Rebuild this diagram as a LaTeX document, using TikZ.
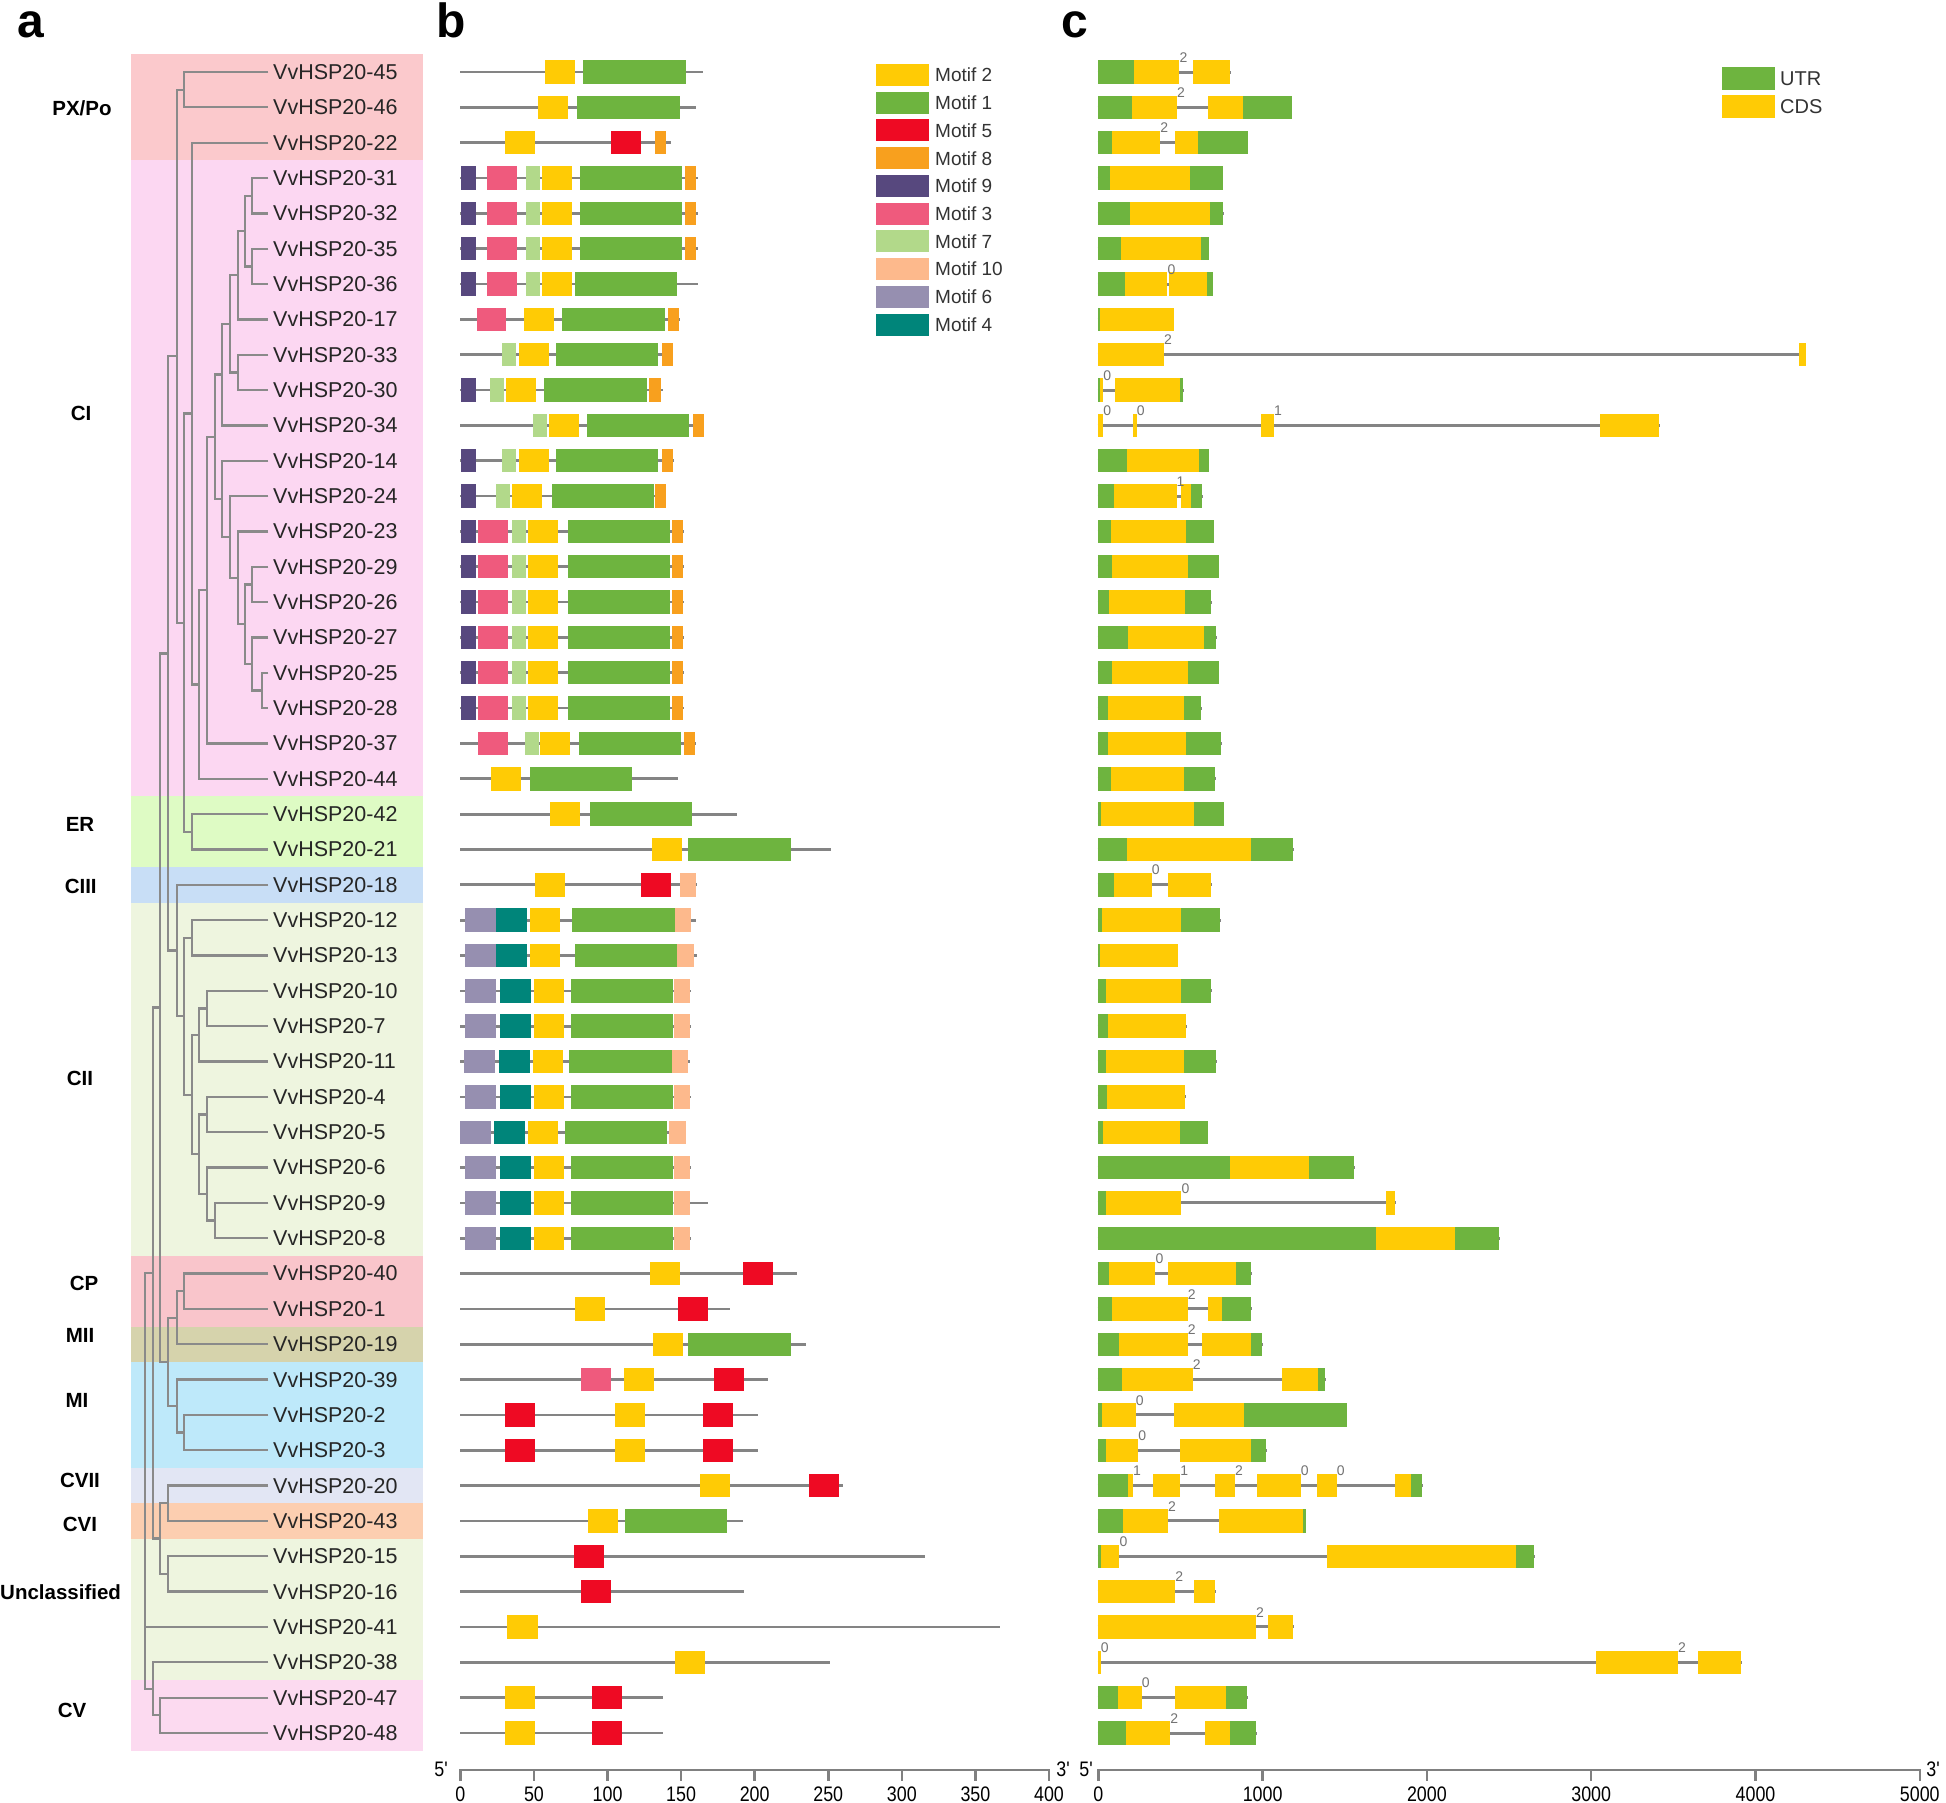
\documentclass[tikz,border=0pt]{standalone}
\usepackage{fontspec}
\setmainfont{Liberation Sans}
\newfontfamily\narrowf[FakeStretch=0.85]{Liberation Sans}
\definecolor{mc1}{HTML}{6EB43F}
\definecolor{mc2}{HTML}{FFCB05}
\definecolor{mc3}{HTML}{EF5A7D}
\definecolor{mc4}{HTML}{00857A}
\definecolor{mc5}{HTML}{EE0A23}
\definecolor{mc6}{HTML}{968FB0}
\definecolor{mc7}{HTML}{B2D98A}
\definecolor{mc8}{HTML}{F8A01E}
\definecolor{mc9}{HTML}{57487E}
\definecolor{mc10}{HTML}{FDB98C}
\definecolor{bPX}{HTML}{FBC9CC}
\definecolor{bCI}{HTML}{FCD7F2}
\definecolor{bER}{HTML}{DEFBC4}
\definecolor{bCIII}{HTML}{C8DEF6}
\definecolor{bCII}{HTML}{EEF5DF}
\definecolor{bCP}{HTML}{F9C5CB}
\definecolor{bMII}{HTML}{D6D3AC}
\definecolor{bMI}{HTML}{BEE9FA}
\definecolor{bCVII}{HTML}{E2E6F4}
\definecolor{bCVI}{HTML}{FCCEB0}
\definecolor{bCV}{HTML}{FCDAF0}
\definecolor{treec}{HTML}{8A8A8A}
\definecolor{linec}{HTML}{848484}
\definecolor{txtc}{HTML}{333333}
\expandafter\def\csname mw1\endcsname{69.5}
\expandafter\def\csname mw2\endcsname{20.4}
\expandafter\def\csname mw3\endcsname{20.2}
\expandafter\def\csname mw4\endcsname{21}
\expandafter\def\csname mw5\endcsname{20.4}
\expandafter\def\csname mw6\endcsname{21}
\expandafter\def\csname mw7\endcsname{9.7}
\expandafter\def\csname mw8\endcsname{7.5}
\expandafter\def\csname mw9\endcsname{10.2}
\expandafter\def\csname mw10\endcsname{11}
\def\leafx{268.3}
% tree clade: node x, child1 (x,y), child2 (x,y)
\newcommand\cl[5]{\draw[tree] (#2,#3) -| (#1,#5) -- (#4,#5);}
\newcommand\bandr[3]{\fill[#3] (131,{#1-0.5}) rectangle (423,{#2+0.5});}
% panel b
\newcommand\bln[2]{\draw[bline] (0,#1) -- (#2,#1);}
\newcommand\mtf[3]{\fill[mc#2] ({#3},{#1-0.331}) rectangle ({#3+\csname mw#2\endcsname},{#1+0.331});}
% panel c
\newcommand\gln[2]{\draw[cline] (-4,#1) -- ({#2+4},#1);}
\newcommand\utr[3]{\fill[mc1] (#2,{#1-0.331}) rectangle (#3,{#1+0.331});}
\newcommand\cds[3]{\fill[mc2] (#2,{#1-0.331}) rectangle (#3,{#1+0.331});}
\newcommand\phs[3]{\node[phase] at (#2,{#1-0.27}) {#3};}
\begin{document}
\begin{tikzpicture}[x=1pt,y=-1pt,
  tree/.style={draw=treec,line width=2.3pt},
  bline/.style={draw=linec,line width=2.7pt},
  cline/.style={draw=linec,line width=3pt},
  glab/.style={anchor=west,inner sep=0pt,text=black!85,font=\fontsize{21.5}{24}\selectfont},
  grp/.style={inner sep=0pt,font=\bfseries\fontsize{20.5}{22}\selectfont},
  panel/.style={anchor=base,inner sep=0pt,font=\bfseries\fontsize{48}{48}\selectfont},
  leg/.style={anchor=west,inner sep=0pt,text=txtc,font=\fontsize{19}{21}\selectfont},
  phase/.style={anchor=south west,inner sep=0pt,text=black!55,font=\fontsize{14}{14}\selectfont},
  axisl/.style={draw=black!50,line width=2.5pt},
  tickl/.style={anchor=base,inner sep=0pt,font=\narrowf\fontsize{21}{21}\selectfont},
]
\fill[white] (0,0) rectangle (1946,1802);
\useasboundingbox (0,0) rectangle (1946,1802);

% ---------------- panel a ----------------
\begin{scope}[shift={(0,72)},y=-35.34pt]
\bandr{0}{2}{bPX}
\bandr{3}{20}{bCI}
\bandr{21}{22}{bER}
\bandr{23}{23}{bCIII}
\bandr{24}{33}{bCII}
\bandr{34}{35}{bCP}
\bandr{36}{36}{bMII}
\bandr{37}{39}{bMI}
\bandr{40}{40}{bCVII}
\bandr{41}{41}{bCVI}
\bandr{42}{45}{bCII}
\bandr{46}{47}{bCV}

\cl{184}{\leafx}{0}{\leafx}{1}
\cl{252.3}{\leafx}{3}{\leafx}{4}
\cl{252.3}{\leafx}{5}{\leafx}{6}
\cl{245}{252.3}{3.5}{252.3}{5.5}
\cl{237.7}{245}{4.5}{\leafx}{7}
\cl{237.7}{\leafx}{8}{\leafx}{9}
\cl{230}{237.7}{5.75}{237.7}{8.5}
\cl{221.7}{230}{7.125}{\leafx}{10}
\cl{261.7}{\leafx}{17}{\leafx}{18}
\cl{252.3}{\leafx}{16}{261.7}{17.5}
\cl{252.3}{\leafx}{14}{\leafx}{15}
\cl{245}{252.3}{14.5}{252.3}{16.75}
\cl{237.7}{\leafx}{13}{245}{15.625}
\cl{230}{\leafx}{12}{237.7}{14.3125}
\cl{221.7}{\leafx}{11}{230}{13.15625}
\cl{215}{221.7}{8.5625}{221.7}{12.078}
\cl{206.7}{215}{10.3203}{\leafx}{19}
\cl{199}{206.7}{14.660}{\leafx}{20}
\cl{191.7}{\leafx}{2}{199}{17.330}
\cl{191.7}{\leafx}{21}{\leafx}{22}
\cl{184}{191.7}{9.665}{191.7}{21.5}
\cl{176.7}{184}{0.5}{184}{15.5825}
\cl{191.7}{\leafx}{24}{\leafx}{25}
\cl{206.7}{\leafx}{26}{\leafx}{27}
\cl{199}{206.7}{26.5}{\leafx}{28}
\cl{206.7}{\leafx}{29}{\leafx}{30}
\cl{215}{\leafx}{32}{\leafx}{33}
\cl{206.7}{\leafx}{31}{215}{32.5}
\cl{199}{206.7}{29.5}{206.7}{31.75}
\cl{191.7}{199}{27.25}{199}{30.625}
\cl{184}{191.7}{24.5}{191.7}{28.9375}
\cl{176.7}{\leafx}{23}{184}{26.71875}
\cl{168.3}{176.7}{8.041}{176.7}{24.859}
\cl{184}{\leafx}{34}{\leafx}{35}
\cl{176.7}{184}{34.5}{\leafx}{36}
\cl{184}{\leafx}{38}{\leafx}{39}
\cl{176.7}{\leafx}{37}{184}{38.5}
\cl{168.3}{176.7}{35.25}{176.7}{37.75}
\cl{160}{168.3}{16.45}{168.3}{36.5}
\cl{168.3}{\leafx}{40}{\leafx}{41}
\cl{168.3}{\leafx}{42}{\leafx}{43}
\cl{160}{168.3}{40.5}{168.3}{42.5}
\cl{152.7}{160}{26.475}{160}{41.5}
\cl{160}{\leafx}{46}{\leafx}{47}
\cl{152.7}{\leafx}{45}{160}{46.5}
\cl{145}{152.7}{33.99}{152.7}{45.75}
\draw[tree] (145,44) -- (\leafx,44);

\foreach \n [count=\i from 0] in {45,46,22,31,32,35,36,17,33,30,34,14,24,23,29,26,27,25,28,37,44,42,21,18,12,13,10,7,11,4,5,6,9,8,40,1,19,39,2,3,20,43,15,16,41,38,47,48}
  \node[glab] (g\n) at (273,\i) {VvHSP20-\n};
\end{scope}

\node[grp] (lPX) at (82,108) {PX/Po};
\node[grp] (lCI) at (81,413) {CI};
\node[grp] (lER) at (80,824) {ER};
\node[grp] (lCIII) at (80.7,886) {CIII};
\node[grp] (lCII) at (80,1078.5) {CII};
\node[grp] (lCP) at (84,1283) {CP};
\node[grp] (lMII) at (80,1335) {MII};
\node[grp] (lMI) at (77,1400) {MI};
\node[grp] (lCVII) at (80,1480.5) {CVII};
\node[grp] (lCVI) at (80,1524) {CVI};
\node[grp,anchor=west] (lUn) at (0,1592) {Unclassified};
\node[grp] (lCV) at (72,1710) {CV};

\node[panel] (pa) at (31,37) {a};
\node[panel] (pb) at (451,37) {b};
\node[panel] (pc) at (1075,37) {c};

% ---------------- panel b ----------------
\begin{scope}[shift={(460.4,72)},x=1.4715pt,y=-35.34pt]
\bln{0}{165}\mtf{0}{2}{57.3}\mtf{0}{1}{83.5}
\bln{1}{160}\mtf{1}{2}{53}\mtf{1}{1}{79.5}
\bln{2}{143.3}\mtf{2}{2}{30.1}\mtf{2}{5}{102.3}\mtf{2}{8}{132.2}
\foreach \r in {3,4,5}{\bln{\r}{161.7}\mtf{\r}{9}{0.2}\mtf{\r}{3}{18.3}\mtf{\r}{7}{44.4}\mtf{\r}{2}{55.2}\mtf{\r}{1}{81.3}\mtf{\r}{8}{152.6}}
\bln{6}{161.7}\mtf{6}{9}{0.2}\mtf{6}{3}{18.3}\mtf{6}{7}{44.4}\mtf{6}{2}{55.2}\mtf{6}{1}{77.6}
\bln{7}{149}\mtf{7}{3}{11}\mtf{7}{2}{43}\mtf{7}{1}{69.3}\mtf{7}{8}{141}
\bln{8}{144}\mtf{8}{7}{28}\mtf{8}{2}{39.7}\mtf{8}{1}{65}\mtf{8}{8}{137}
\bln{9}{138}\mtf{9}{9}{0.2}\mtf{9}{7}{20}\mtf{9}{2}{31}\mtf{9}{1}{57}\mtf{9}{8}{128.5}
\bln{10}{165}\mtf{10}{7}{49}\mtf{10}{2}{60}\mtf{10}{1}{86}\mtf{10}{8}{158}
\bln{11}{145}\mtf{11}{9}{0.2}\mtf{11}{7}{28}\mtf{11}{2}{39.7}\mtf{11}{1}{65}\mtf{11}{8}{137}
\bln{12}{140}\mtf{12}{9}{0.2}\mtf{12}{7}{24}\mtf{12}{2}{35}\mtf{12}{1}{62}\mtf{12}{8}{132}
\foreach \r in {13,...,18}{\bln{\r}{152}\mtf{\r}{9}{0.2}\mtf{\r}{3}{12}\mtf{\r}{7}{35}\mtf{\r}{2}{46}\mtf{\r}{1}{73}\mtf{\r}{8}{143.5}}
\bln{19}{160}\mtf{19}{3}{12}\mtf{19}{7}{44}\mtf{19}{2}{54}\mtf{19}{1}{80.5}\mtf{19}{8}{152}
\bln{20}{148}\mtf{20}{2}{21}\mtf{20}{1}{47}
\bln{21}{188}\mtf{21}{2}{61}\mtf{21}{1}{88}
\bln{22}{252}\mtf{22}{2}{130}\mtf{22}{1}{155}
\bln{23}{161}\mtf{23}{2}{51}\mtf{23}{5}{123}\mtf{23}{10}{149.4}
\bln{24}{160}\mtf{24}{6}{3.4}\mtf{24}{4}{24.4}\mtf{24}{2}{47}\mtf{24}{1}{76}\mtf{24}{10}{146}
\bln{25}{161}\mtf{25}{6}{3.4}\mtf{25}{4}{24.4}\mtf{25}{2}{47}\mtf{25}{1}{77.6}\mtf{25}{10}{147.5}
\foreach \r in {26,27,29,31,33}{\bln{\r}{157}\mtf{\r}{6}{3.4}\mtf{\r}{4}{27}\mtf{\r}{2}{50}\mtf{\r}{1}{75}\mtf{\r}{10}{145}}
\bln{32}{168}\mtf{32}{6}{3.4}\mtf{32}{4}{27}\mtf{32}{2}{50}\mtf{32}{1}{75}\mtf{32}{10}{145}
\bln{28}{156}\mtf{28}{6}{2.5}\mtf{28}{4}{26}\mtf{28}{2}{49}\mtf{28}{1}{74}\mtf{28}{10}{144}
\bln{30}{153}\mtf{30}{6}{0}\mtf{30}{4}{23}\mtf{30}{2}{46}\mtf{30}{1}{71}\mtf{30}{10}{142}
\bln{34}{229}\mtf{34}{2}{129}\mtf{34}{5}{192}
\bln{35}{183}\mtf{35}{2}{78}\mtf{35}{5}{148}
\bln{36}{235}\mtf{36}{2}{131}\mtf{36}{1}{155}
\bln{37}{209}\mtf{37}{3}{82}\mtf{37}{2}{111}\mtf{37}{5}{172}
\bln{38}{202}\mtf{38}{5}{30}\mtf{38}{2}{105}\mtf{38}{5}{165}
\bln{39}{202}\mtf{39}{5}{30}\mtf{39}{2}{105}\mtf{39}{5}{165}
\bln{40}{260}\mtf{40}{2}{163}\mtf{40}{5}{237}
\bln{41}{192}\mtf{41}{2}{87}\mtf{41}{1}{112}
\bln{42}{316}\mtf{42}{5}{77}
\bln{43}{193}\mtf{43}{5}{82}
\bln{44}{367}\mtf{44}{2}{32}
\bln{45}{251}\mtf{45}{2}{146}
\bln{46}{138}\mtf{46}{2}{30.5}\mtf{46}{5}{89.2}
\bln{47}{138}\mtf{47}{2}{30.5}\mtf{47}{5}{89.2}
\end{scope}

% legend b
\foreach \m/\t [count=\k from 0] in {2/Motif 2,1/Motif 1,5/Motif 5,8/Motif 8,9/Motif 9,3/Motif 3,7/Motif 7,10/Motif 10,6/Motif 6,4/Motif 4}{
  \fill[mc\m] (876,{64+27.74*\k}) rectangle (929,{86+27.74*\k});
  \node[leg] (lm\m) at (935,{75+27.74*\k}) {\t};
}

% ---------------- panel c ----------------
\begin{scope}[shift={(1098.3,72)},x=0.1643pt,y=-35.34pt]
\gln{0}{803}\utr{0}{0}{219}\cds{0}{219}{493}\cds{0}{576}{802}\phs{0}{493}{2}
\gln{1}{1177}\utr{1}{0}{203}\cds{1}{203}{479}\cds{1}{670}{879}\utr{1}{879}{1177}\phs{1}{479}{2}
\gln{2}{909}\utr{2}{0}{85}\cds{2}{85}{377}\cds{2}{467}{609}\utr{2}{609}{909}\phs{2}{377}{2}
\gln{3}{757}\utr{3}{0}{73}\cds{3}{73}{558}\utr{3}{558}{757}
\gln{4}{761}\utr{4}{0}{195}\cds{4}{195}{680}\utr{4}{680}{761}
\gln{5}{672}\utr{5}{0}{138}\cds{5}{138}{623}\utr{5}{623}{672}
\gln{6}{696}\utr{6}{0}{164}\cds{6}{164}{420}\cds{6}{432}{663}\utr{6}{663}{696}\phs{6}{420}{0}
\gln{7}{459}\utr{7}{0}{8}\cds{7}{8}{459}
\gln{8}{4305}\cds{8}{0}{400}\cds{8}{4267}{4305}\phs{8}{400}{2}
\gln{9}{515}\utr{9}{0}{12}\cds{9}{12}{30}\cds{9}{103}{500}\utr{9}{500}{515}\phs{9}{30}{0}
\gln{10}{3414}\cds{10}{0}{30}\cds{10}{211}{233}\cds{10}{988}{1069}\cds{10}{3051}{3414}\phs{10}{30}{0}\phs{10}{233}{0}\phs{10}{1069}{1}
\gln{11}{672}\utr{11}{0}{174}\cds{11}{174}{612}\utr{11}{612}{672}
\gln{12}{634}\utr{12}{0}{98}\cds{12}{98}{476}\cds{12}{506}{566}\utr{12}{566}{634}\phs{12}{476}{1}
\gln{13}{702}\utr{13}{0}{75}\cds{13}{75}{536}\utr{13}{536}{702}
\gln{14}{733}\utr{14}{0}{83}\cds{14}{83}{544}\utr{14}{544}{733}
\gln{15}{687}\utr{15}{0}{68}\cds{15}{68}{529}\utr{15}{529}{687}
\gln{16}{718}\utr{16}{0}{181}\cds{16}{181}{642}\utr{16}{642}{718}
\gln{17}{733}\utr{17}{0}{83}\cds{17}{83}{544}\utr{17}{544}{733}
\gln{18}{627}\utr{18}{0}{60}\cds{18}{60}{521}\utr{18}{521}{627}
\gln{19}{748}\utr{19}{0}{60}\cds{19}{60}{536}\utr{19}{536}{748}
\gln{20}{710}\utr{20}{0}{75}\cds{20}{75}{521}\utr{20}{521}{710}
\gln{21}{763}\utr{21}{0}{15}\cds{21}{15}{582}\utr{21}{582}{763}
\gln{22}{1186}\utr{22}{0}{174}\cds{22}{174}{929}\utr{22}{929}{1186}
\gln{23}{687}\utr{23}{0}{98}\cds{23}{98}{325}\cds{23}{423}{687}\phs{23}{325}{0}
\gln{24}{740}\utr{24}{0}{23}\cds{24}{23}{506}\utr{24}{506}{740}
\gln{25}{483}\utr{25}{0}{8}\cds{25}{8}{483}
\gln{26}{687}\utr{26}{0}{45}\cds{26}{45}{506}\utr{26}{506}{687}
\gln{27}{536}\utr{27}{0}{60}\cds{27}{60}{536}
\gln{28}{718}\utr{28}{0}{45}\cds{28}{45}{521}\utr{28}{521}{718}
\gln{29}{529}\utr{29}{0}{53}\cds{29}{53}{529}
\gln{30}{665}\utr{30}{0}{30}\cds{30}{30}{498}\utr{30}{498}{665}
\gln{31}{1556}\utr{31}{0}{800}\cds{31}{800}{1284}\utr{31}{1284}{1556}
\gln{32}{1805}\utr{32}{0}{45}\cds{32}{45}{506}\cds{32}{1752}{1805}\phs{32}{506}{0}
\gln{33}{2440}\utr{33}{0}{1692}\cds{33}{1692}{2168}\utr{33}{2168}{2440}
\gln{34}{929}\utr{34}{0}{68}\cds{34}{68}{347}\cds{34}{423}{838}\utr{34}{838}{929}\phs{34}{347}{0}
\gln{35}{929}\utr{35}{0}{83}\cds{35}{83}{544}\cds{35}{665}{755}\utr{35}{755}{929}\phs{35}{544}{2}
\gln{36}{997}\utr{36}{0}{128}\cds{36}{128}{544}\cds{36}{634}{929}\utr{36}{929}{997}\phs{36}{544}{2}
\gln{37}{1382}\utr{37}{0}{143}\cds{37}{143}{574}\cds{37}{1118}{1337}\utr{37}{1337}{1382}\phs{37}{574}{2}
\gln{38}{1511}\utr{38}{0}{23}\cds{38}{23}{227}\cds{38}{461}{884}\utr{38}{884}{1511}\phs{38}{227}{0}
\gln{39}{1020}\utr{39}{0}{45}\cds{39}{45}{242}\cds{39}{498}{929}\utr{39}{929}{1020}\phs{39}{242}{0}
\gln{40}{1971}\utr{40}{0}{181}\cds{40}{181}{211}\cds{40}{332}{498}\cds{40}{710}{831}\cds{40}{967}{1231}\cds{40}{1329}{1450}\cds{40}{1805}{1903}\utr{40}{1903}{1971}
\phs{40}{211}{1}\phs{40}{498}{1}\phs{40}{831}{2}\phs{40}{1231}{0}\phs{40}{1450}{0}
\gln{41}{1261}\utr{41}{0}{151}\cds{41}{151}{423}\cds{41}{733}{1246}\utr{41}{1246}{1261}\phs{41}{423}{2}
\gln{42}{2651}\utr{42}{0}{15}\cds{42}{15}{128}\cds{42}{1390}{2545}\utr{42}{2545}{2651}\phs{42}{128}{0}
\gln{43}{710}\cds{43}{0}{468}\cds{43}{582}{710}\phs{43}{468}{2}
\gln{44}{1186}\cds{44}{0}{959}\cds{44}{1035}{1186}\phs{44}{959}{2}
\gln{45}{3912}\cds{45}{0}{15}\cds{45}{3029}{3527}\cds{45}{3648}{3912}\phs{45}{15}{0}\phs{45}{3527}{2}
\gln{46}{906}\utr{46}{0}{121}\cds{46}{121}{264}\cds{46}{468}{778}\utr{46}{778}{906}\phs{46}{264}{0}
\gln{47}{959}\utr{47}{0}{166}\cds{47}{166}{438}\cds{47}{650}{801}\utr{47}{801}{959}\phs{47}{438}{2}
\end{scope}

% legend c
\fill[mc1] (1721.7,67) rectangle (1775,90);
\fill[mc2] (1721.7,95) rectangle (1775,118.4);
\node[leg,font=\fontsize{20}{22}\selectfont] (lutr) at (1780,78.5) {UTR};
\node[leg,font=\fontsize{20}{22}\selectfont] (lcds) at (1780,106.5) {CDS};

% ---------------- axes ----------------
\draw[axisl] (460.4,1781) -- (460.4,1770) -- (1049,1770) -- (1049,1781);
\foreach \k in {1,...,7} \draw[axisl] ({460.4+73.575*\k},1770) -- ({460.4+73.575*\k},1781);
\foreach \v [count=\k from 0] in {0,50,100,150,200,250,300,350,400}
  \node[tickl] (tb\k) at ({460.4+73.575*\k},1801) {\v};
\draw[axisl] (1098.3,1781) -- (1098.3,1770) -- (1919.8,1770) -- (1919.8,1781);
\foreach \k in {1,...,4} \draw[axisl] ({1098.3+164.3*\k},1770) -- ({1098.3+164.3*\k},1781);
\foreach \v [count=\k from 0] in {0,1000,2000,3000,4000,5000}
  \node[tickl] (tc\k) at ({1098.3+164.3*\k},1801) {\v};
\node[tickl] (b5) at (441,1776) {5'};
\node[tickl] (b3) at (1063,1776) {3'};
\node[tickl] (c5) at (1086,1776) {5'};
\node[tickl] (c3) at (1933,1776) {3'};
\end{tikzpicture}
\end{document}
